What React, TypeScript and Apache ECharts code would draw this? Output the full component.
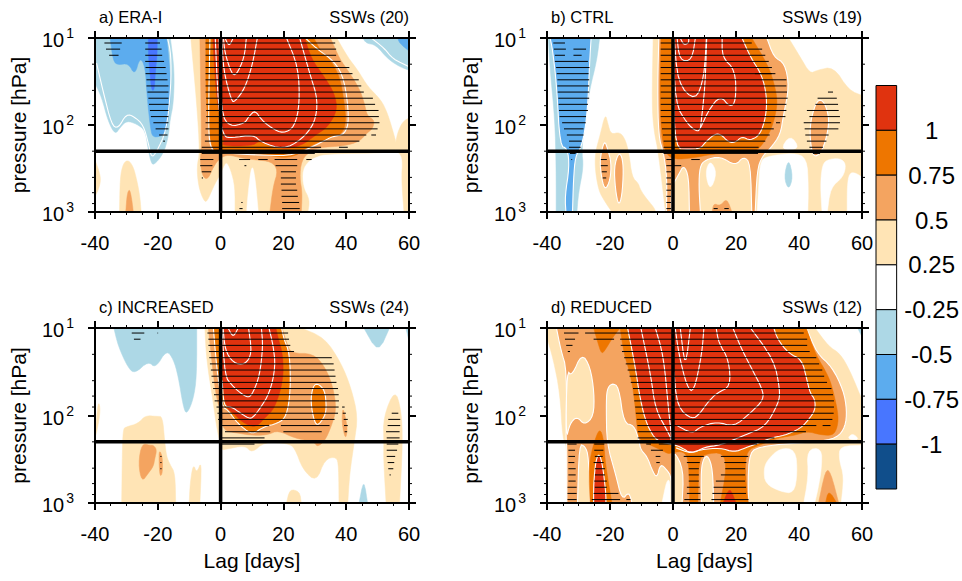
import React, { useEffect, useRef } from "react";
import * as echarts from "echarts";

type Pt = [number, number];
type Fill = { band: number; edge?: boolean; pts: Pt[] };
type Seg = [number, number, number];

// Colour bar, top to bottom
const barBands = [1, 0.75, 0.5, 0.25, 0, -0.25, -0.5, -0.75, -1];
const barColors = ["#e0330f", "#ee7600", "#f4a460", "#ffe4b5", "#ffffff", "#add8e6", "#5cacee", "#4876ff", "#104e8b"];
const barLabels = ["", "-1", "-0.75", "-0.5", "-0.25", "0.25", "0.5", "0.75", "1", ""];

const lagTicks = { min: -40, max: 60, step: 20 };
const minorPressures = [20, 40, 60, 80, 200, 400, 600, 800];
const refPressure = 200;
const refLag = 0;

const titles = ["a) ERA-I", "b) CTRL", "c) INCREASED", "d) REDUCED"];
const sswCounts = ["SSWs (20)", "SSWs (19)", "SSWs (24)", "SSWs (12)"];

// Every contour is a list of [lag in days, log10 of pressure in hPa]
const fillsA: Fill[] = [
  { band: 0.25, pts: [[-9.5, 1], [37, 1], [40.5, 1.22], [43.7, 1.37], [46.9, 1.56], [51.1, 1.71], [53.2, 1.87], [54.8, 2.06], [56.4, 2.27], [54.3, 2.32], [34.2, 2.33], [30.5, 2.36], [27.8, 2.42], [26, 2.52], [26.2, 2.71], [28.4, 2.86], [27.8, 3], [4.6, 3], [4.6, 2.71], [3.3, 2.52], [1.9, 2.42], [0.9, 2.48], [-0.2, 2.57], [-2.3, 2.71], [-4.4, 2.89], [-5.5, 2.86], [-7, 2.71], [-7.6, 2.48], [-6.6, 2.32], [-7.6, 1.75]] },
  { band: 0, pts: [[8.3, 3], [8.7, 2.8], [9.9, 2.44], [11, 2.6], [12, 3]] },
  { band: 0.25, pts: [[56.2, 2.1], [58, 1.96], [60, 1.92], [60, 3], [58.4, 3], [57.6, 2.62], [58, 2.4], [57, 2.32], [55.4, 2.3]] },
  { band: 0.25, pts: [[-40, 2.4], [-38.5, 2.55], [-38.2, 2.65], [-39, 2.75], [-40, 2.82]] },
  { band: 0.25, pts: [[-32.2, 3], [-32, 2.6], [-31, 2.44], [-29.4, 2.4], [-27.8, 2.48], [-26.7, 2.63], [-25.7, 2.82], [-25.3, 3]] },
  { band: 0.5, pts: [[-30.2, 3], [-29.8, 2.8], [-29, 2.73], [-28.3, 2.85], [-27.8, 3]] },
  { band: 0.5, pts: [[-6.6, 1], [35, 1], [37.9, 1.24], [40.5, 1.37], [44.2, 1.58], [45.8, 1.75], [46.7, 1.9], [49, 1.94], [48.5, 2.04], [46.4, 2.1], [44.2, 2.19], [39.5, 2.24], [31, 2.26], [27.8, 2.32], [25.7, 2.42], [25.2, 2.6], [26, 2.78], [25.7, 3], [15.7, 3], [16.7, 2.71], [18.3, 2.52], [16.2, 2.42], [11, 2.4], [6.7, 2.38], [2.4, 2.34], [-0.2, 2.38], [-2.3, 2.48], [-4.1, 2.63], [-5.8, 2.59], [-6.6, 2.4], [-6, 2.27]] },
  { band: 0.75, pts: [[-4.7, 1], [29.7, 1], [32, 1.16], [35, 1.25], [38, 1.45], [39.3, 1.72], [40, 1.95], [38.8, 2.1], [35, 2.15], [30.3, 2.21], [25.5, 2.3], [24.7, 2.34], [20.4, 2.38], [14, 2.34], [11, 2.32], [-0.5, 2.33], [-3, 2.27], [-4.7, 1.75]] },
  { band: 1, pts: [[-2.5, 1], [26.8, 1], [28.9, 1.24], [33.1, 1.45], [36.3, 1.64], [37.2, 1.83], [34.2, 2.02], [30.5, 2.11], [25.7, 2.24], [19.4, 2.28], [13, 2.2], [12, 2.19], [10, 2.24], [0.3, 2.24], [1.2, 2.19], [-0.3, 1.9], [-1.5, 1.6]] },
  { band: -0.25, pts: [[-40, 1], [-16, 1], [-14.7, 1.37], [-15, 1.75], [-16.1, 1.94], [-16.6, 2.13], [-18.2, 2.33], [-21.4, 2.47], [-22.3, 2.41], [-23, 2.29], [-24, 2.06], [-26.7, 1.99], [-29.9, 1.95], [-32, 2.03], [-33.6, 2.11], [-35.8, 1.96], [-37.9, 1.68], [-40, 1.52]] },
  { band: -0.5, pts: [[-35.2, 1], [-17.2, 1], [-16.6, 1.18], [-15.8, 1.56], [-16.6, 1.94], [-17.7, 2.11], [-21.4, 2.15], [-22.3, 2.06], [-23.5, 1.64], [-24, 1.33], [-25.7, 1.22], [-27.3, 1.43], [-29.4, 1.29], [-32.6, 1.31], [-34.2, 1.27]] },
  { band: -0.75, pts: [[-23, 1], [-20.2, 1], [-20.2, 1.2], [-20.8, 1.4], [-21.1, 1.6], [-22, 1.6], [-22.5, 1.4], [-23, 1.2]] },
  { band: -0.25, pts: [[45.3, 1], [60, 1], [60, 1.37], [57, 1.33], [53.2, 1.24], [49.5, 1.08], [46.3, 1.06]] },
  { band: -0.5, pts: [[56.4, 1], [60, 1], [60, 1.15], [57, 1.06]] },
];
const linesA: Pt[][] = [
  [[-39.5, 1.29], [-37.3, 1.63], [-34.7, 2], [-32.6, 2.04], [-30, 1.87], [-27.3, 1.91], [-24.6, 2], [-23, 2.21], [-22, 2.38], [-20.4, 2.31], [-17.2, 2.06], [-15.8, 1.56], [-15.8, 1.18], [-16.9, 1]],
  [[48, 1], [52.2, 1.12], [54.8, 1.24], [60, 1.33]],
  [[1.4, 1], [2.7, 1.1], [4, 1]],
  [[0.9, 1], [1.4, 1.18], [3.5, 1.41], [5, 1.43], [7.6, 1.22], [8.2, 1]],
  [[0.4, 1], [0.9, 1.37], [3.5, 1.73], [4.6, 1.73], [7.7, 1.58], [10.2, 1.3], [11.7, 1]],
  [[-0.5, 1], [0.2, 1.87], [2.9, 2.02], [7.7, 1.98], [9, 1.9], [11, 1.83], [13, 1.94], [16, 2.03], [20, 2.1], [23.6, 2.02], [25.2, 1.75], [24.7, 1.33], [21, 1]],
  [[-1.7, 1], [-0.7, 1.8], [0.8, 2.13], [3.5, 2.15], [10.4, 2.11], [13, 2.2], [20, 2.28], [25.7, 2.17], [30, 1.98], [31, 1.71], [28.4, 1.41], [25.2, 1]],
  [[-3.4, 1], [-3.9, 1.95], [-3.4, 2.27], [-0.7, 2.32], [14, 2.35], [23.6, 2.35], [32, 2.2], [35.8, 2.13], [39.5, 2.11], [41, 1.94], [39.5, 1.48], [36.3, 1.27], [30.5, 1.12], [27, 1]],
];
// [hatch row, first lag, last lag]
const hatchA: Seg[] = [
  [0, -37, -31.5], [0, -24, -19.3], [0, -4.8, 36.5],
  [1, -36.5, -32], [1, -24, -18.8], [1, -4.8, 36.8],
  [2, -35.5, -32.5], [2, -24, -18.6], [2, -4.8, 36.8],
  [3, -24, -18], [3, -4.8, 38.2],
  [4, -23.9, -17.5], [4, -4.8, 41],
  [5, -23.9, -17.2], [5, -4.8, 42],
  [6, -23.6, -16.9], [6, -4.8, 44],
  [7, -23.6, -16.6], [7, -4.8, 44.8],
  [8, -23.3, -16.6], [8, -4.8, 45.6],
  [9, -23, -16.6], [9, -4.6, 48.5],
  [10, -22.8, -16.6], [10, -4.6, 49.2],
  [11, -22.5, -16.6], [11, -4.6, 50.3],
  [12, -22.2, -16.6], [12, -4.6, 50.4],
  [13, -21.4, -16.6], [13, -4.8, 50.6],
  [14, -20.7, -16.6], [14, -4.8, 50],
  [15, -19.6, -16.9], [15, -5, 46.4], [15, 48, 49.5],
  [16, -18.3, -17.7], [16, -5, 44.2],
  [17, -6, 32], [17, 37.7, 40.5],
  [18, -6, 30],
  [19, -6.5, -2.3], [19, 5.9, 9.4], [19, 12, 15], [19, 17.2, 24.4], [19, 27.3, 29],
  [20, -6.5, -2.6], [20, 7.6, 8.2], [20, 17.5, 24.4],
  [21, -6, -3], [21, 19.2, 24],
  [22, -6, -5.6], [22, 19.2, 24],
  [23, 19.2, 24], [24, 19.4, 24.4], [25, 19.4, 24.6],
  [26, 6.6, 7], [26, 19.6, 25],
  [27, 6, 7], [27, 19.6, 25.2],
];

const fillsB: Fill[] = [
  { band: 0.25, pts: [[-6.3, 1], [36.7, 1], [40.4, 1.22], [43.5, 1.41], [45.7, 1.37], [51, 1.33], [55.8, 1.6], [60, 1.66], [60, 3], [-2.4, 3], [-4.6, 2.32], [-6.1, 2.06], [-6.7, 1.75]] },
  { band: 0.25, pts: [[-21.5, 1.87], [-20.7, 1.98], [-19.7, 2.11], [-17, 2.08], [-15.2, 2.16], [-14, 2.32], [-13, 2.6], [-11, 2.67], [-10.5, 2.73], [-9, 2.82], [-6, 2.95], [-5.5, 3], [-19.4, 3], [-22, 2.86], [-23.6, 2.75], [-24.7, 2.52], [-24.7, 2.32], [-23.1, 2.11]] },
  { band: 0, pts: [[27.7, 2.42], [29.8, 2.36], [38.3, 2.32], [42.5, 2.38], [43, 2.71], [42.8, 3], [26.7, 3], [27.2, 2.71]] },
  { band: 0, pts: [[47.3, 2.48], [48.6, 2.4], [53, 2.38], [55, 2.45], [54, 2.6], [50, 2.72], [49, 3], [47.3, 3], [46.8, 2.7]] },
  { band: 0, pts: [[55.3, 3], [55.3, 2.7], [56, 2.55], [58, 2.55], [60, 2.6], [60, 3]] },
  { band: 0, pts: [[34, 2.29], [37.2, 2.11], [40.4, 2.28]] },
  { band: 0, pts: [[11.8, 2.4], [14, 2.55], [11.8, 2.76], [10.2, 2.55]] },
  { band: -0.25, pts: [[36.7, 2.38], [35.2, 2.6], [36.7, 2.75], [38.1, 2.6]] },
  { band: 0.5, edge: true, pts: [[-4.5, 1], [29.8, 1], [32, 1.22], [35.5, 1.29], [36.9, 1.56], [35, 1.9], [34.1, 2.11], [30.9, 2.27], [28.3, 2.36], [26.7, 2.52], [26.1, 3], [25, 3], [24.6, 2.44], [22.4, 2.36], [19.8, 2.47], [15, 2.36], [10.2, 2.4], [8.5, 2.48], [8.2, 2.71], [8.7, 3], [5.2, 3], [5, 2.59], [3.4, 2.46], [1.8, 2.57], [-0.5, 2.71], [-0.6, 3], [-2.1, 3], [-1.9, 2.6], [-3, 2.32], [-4.6, 2.13], [-4.9, 1.56]] },
  { band: 0.5, pts: [[12.4, 3], [12.9, 2.9], [15, 2.93], [17.1, 2.84], [18.7, 3]] },
  { band: 0.5, edge: true, pts: [[47, 1.7], [45.2, 1.75], [43.3, 2.02], [44, 2.32], [45.5, 2.37], [47.8, 2.27], [49.7, 1.98], [48.7, 1.79]] },
  { band: 0.5, edge: true, pts: [[-21.8, 2.17], [-23.3, 2.4], [-22.6, 2.63], [-21.5, 2.75], [-19.9, 2.63], [-19.6, 2.43], [-20.7, 2.28]] },
  { band: 0.5, edge: true, pts: [[-17.3, 2.32], [-18.7, 2.48], [-18.3, 2.74], [-17.3, 2.93], [-16.2, 2.82], [-15.7, 2.52], [-16.2, 2.36]] },
  { band: 0.75, pts: [[-3.8, 1], [25, 1], [29.3, 1.26], [31.4, 1.43], [33.3, 1.71], [32.2, 1.94], [30.4, 2.11], [27.5, 2.27], [24.5, 2.32], [15, 2.32], [4.5, 2.39], [-0.3, 2.39], [-2.5, 2.31], [-3.8, 2.1], [-4.2, 1.56]] },
  { band: 1, edge: true, pts: [[0.2, 1], [21.9, 1], [24.6, 1.22], [28.3, 1.43], [29.8, 1.68], [29.5, 1.9], [27.7, 2.11], [24.5, 2.18], [21.9, 2.13], [19.8, 2.2], [17.7, 2.2], [15, 2.1], [12.9, 2.11], [10, 2.21], [8.7, 2.27], [5, 2.28], [0.7, 2.27], [0.2, 1.56]] },
  { band: -0.25, pts: [[-39.6, 1], [-23.3, 1], [-24.2, 1.26], [-26.5, 1.6], [-27.9, 1.94], [-29, 2.29], [-28.4, 2.48], [-30, 2.78], [-30.5, 3], [-37.1, 3], [-37.1, 2.48], [-37.5, 1.94], [-39, 1.37]] },
  { band: -0.5, edge: true, pts: [[-39, 1], [-26, 1], [-26.5, 1.3], [-27, 1.75], [-27.9, 2.06], [-29.3, 2.27], [-31, 2.36], [-31.6, 2.63], [-31.9, 3], [-34, 3], [-34.3, 2.82], [-32.9, 2.48], [-33.5, 2.27], [-35.9, 2.24], [-36.9, 1.56], [-38.2, 1.14]] },
];
const linesB: Pt[][] = [
  [[2.3, 1], [3.4, 1.08], [5, 1.06], [5, 1]],
  [[1.3, 1], [2.1, 1.26], [6, 1.26], [7.1, 1]],
  [[0.4, 1], [1.5, 1.52], [7.1, 1.73], [9.9, 1.45], [10.6, 1]],
  [[0, 1], [0.7, 1.75], [4.4, 1.98], [7.6, 2.08], [8.7, 2.04], [11.3, 1.83], [15, 1.66], [18.2, 1.8], [20, 1.72], [19.8, 1.37], [15.6, 1.22], [15.6, 1]],
  [[10.7, 1], [10.2, 1.56], [8.7, 2.04]],
];
const hatchB: Seg[] = [
  [0, -38, -34.3], [0, -3.9, 25],
  [1, -37.8, -34], [1, -31.6, -27.6], [1, -3.9, 28.3],
  [2, -37.5, -34.3], [2, -31.6, -29], [2, -3.9, 29.3],
  [3, -37.5, -27], [3, -3.9, 30.4],
  [4, -37.1, -26.5], [4, -3.9, 31.4],
  [5, -36.9, -26.8], [5, -3.9, 31.4], [5, 26, 32.5],
  [6, -36.7, -26.6], [6, -3.9, 36],
  [7, -36.7, -26.6], [7, -3.9, 36],
  [8, -36.6, -26.6], [8, -3.9, 36.2], [8, 49.2, 50.8],
  [9, -36.4, -26.6], [9, -3.9, 36.4], [9, 45.9, 52],
  [10, -36.3, -27], [10, -3.9, 36], [10, 45.2, 52.4],
  [11, -36.2, -27], [11, -3.9, 36], [11, 42.5, 52.6],
  [12, -36, -27.6], [12, -3.9, 35.7], [12, 43.3, 53],
  [13, -35.2, -27.7], [13, -3.7, 31.2], [13, 32.7, 34],
  [14, -34.6, -28.4], [14, -3.5, 32], [14, 41.8, 52.5],
  [13, 41.5, 53],
  [15, -33.7, -28.4], [15, -3.2, 30.7], [15, 42, 49.4],
  [16, -33, -29], [16, -3, 29.3], [16, 42.5, 48.7],
  [17, -33, -29.3], [17, -3, 27.2], [17, 43.3, 47.6],
  [18, -32.7, -30.9], [18, -3, 27], [18, 44.4, 46.7],
  [19, -32.3, -32], [19, -2.1, -0.3], [19, 5.8, 8.5], [19, -22.9, -21],
  [20, -2.1, 2.6], [20, -22.9, -20.7],
  [21, -2.1, -0.6], [21, -22.6, -21],
  [22, -2.1, -0.6], [22, -22.3, -21.2],
  [23, -2.1, -0.6], [24, -2.1, -0.6], [25, -2.1, -0.6], [26, -2.1, -0.6],
  [27, -2.1, -0.6], [27, 12.9, 14.2], [27, 16.3, 17.7],
];

const fillsC: Fill[] = [
  { band: 0.25, pts: [[-5, 1], [25.7, 1], [33.1, 1.11], [38.4, 1.4], [41.6, 1.69], [43.7, 2.01], [42.6, 2.3], [41.1, 2.66], [40.5, 3], [37.7, 3], [37.6, 2.58], [36.9, 2.47], [33.2, 2.5], [30.5, 2.76], [26.2, 2.62], [23.6, 2.37], [21.5, 2.32], [14, 2.3], [10, 2.43], [7.8, 2.34], [1.4, 2.39], [0.3, 2.39], [-1.3, 2.13], [-2.3, 1.86], [-4.5, 1.36]] },
  { band: 0.25, pts: [[21, 3], [22, 2.84], [25.2, 2.87], [25.7, 3]] },
  { band: 0.25, pts: [[52, 2.32], [51.8, 2.02], [55.5, 1.7], [57.5, 1.93], [58, 2.3], [57, 3], [52.7, 3], [51.9, 2.5]] },
  { band: 0.25, pts: [[-40, 2.24], [-39, 1.82], [-38.2, 1.94], [-39.5, 2.2]] },
  { band: 0.25, pts: [[-31, 2.15], [-30, 2.13], [-26.2, 2.09], [-24, 2], [-20.3, 2.01], [-18.5, 2.01], [-17.8, 2.3], [-17.2, 2.47], [-16.1, 2.56], [-14.5, 2.66], [-14.3, 3], [-31.5, 3], [-31.3, 2.39]] },
  { band: 0.25, pts: [[-8.7, 2.55], [-7.6, 2.66], [-6, 2.51], [-6.6, 3], [-10, 3], [-9.7, 2.77]] },
  { band: 0.5, pts: [[-25.1, 2.32], [-22.5, 2.34], [-21.4, 2.34], [-20.3, 2.39], [-21, 2.5], [-21.4, 2.58], [-23, 2.66], [-25.1, 2.76], [-26.2, 2.55]] },
  { band: 0.5, pts: [[-19.6, 2.39], [-18.5, 2.47], [-18.5, 2.66], [-19.3, 2.7], [-19.6, 2.55]] },
  { band: 0.5, pts: [[-3.9, 1], [19.6, 1], [21, 1.17], [22.5, 1.29], [29.4, 1.29], [33.2, 1.44], [35.8, 1.67], [36.9, 1.93], [35.2, 2.13], [33.2, 2.29], [30.8, 2.36], [29.8, 2.3], [23.6, 2.26], [18.3, 2.17], [15.1, 2.22], [10.8, 2.23], [5, 2.2], [0.6, 2.17], [0.3, 1.94], [-1, 1.86], [-2.3, 1.55]] },
  { band: 0.5, pts: [[38.9, 1.9], [39.8, 2.03], [40.4, 2.15], [39.8, 2.28], [38.6, 2.09]] },
  { band: 0.75, edge: true, pts: [[-2.3, 1], [19.4, 1], [20.2, 1.13], [22, 1.29], [22.3, 1.71], [21, 2.01], [18.3, 2.09], [13.5, 2.13], [10.2, 2.22], [6.7, 2.13], [4.6, 2.05], [2.4, 1.94], [0.5, 1.9], [-1.3, 1.44]] },
  { band: 0.75, edge: true, pts: [[30.8, 1.63], [33.2, 1.71], [33.7, 1.9], [33.2, 2.01], [30.7, 2.13], [29.4, 2.01], [28.7, 1.82], [29.4, 1.67]] },
  { band: 1, pts: [[-0.2, 1], [17.6, 1], [18.3, 1.11], [19.9, 1.32], [19.9, 1.61], [17.2, 1.92], [14, 2.03], [12, 2.11], [10, 2.13], [6.7, 2.07], [4.6, 1.99], [1.4, 1.9], [0.5, 1.55]] },
  { band: -0.25, pts: [[-34, 1], [-7.6, 1], [-7.6, 1.55], [-8.7, 1.82], [-10.8, 1.99], [-11.9, 1.9], [-13.5, 1.55], [-15, 1.36], [-17.2, 1.25], [-20.7, 1.46], [-23, 1.38], [-27.3, 1.52], [-29.4, 1.46], [-32.6, 1.21]] },
  { band: -0.25, pts: [[45.6, 1], [53.8, 1], [50.2, 1.29]] },
  { band: -0.25, pts: [[59, 1], [60, 1], [60, 1.15]] },
  { band: -0.25, pts: [[45.6, 2.72], [44.1, 3], [46.8, 3]] },
];
const linesC: Pt[][] = [
  [[2.4, 1], [4, 1.11], [5.6, 1]],
  [[0.8, 1], [1.4, 1.25], [4, 1.4], [7.8, 1.42], [10, 1.29], [8.9, 1]],
  [[0.4, 1], [1.4, 1.55], [3.5, 1.65], [6.2, 1.74], [8.9, 1.8], [10.3, 1.74], [12.4, 1.55], [13.5, 1.21], [13, 1]],
  [[0.5, 1.6], [1, 1.9], [3.5, 1.9], [6.2, 1.97], [8.9, 2.03], [10, 2.03], [12, 1.95], [15.7, 1.74], [17.5, 1.44], [16.7, 1.19], [15.4, 1]],
];
const hatchC: Seg[] = [
  [0, -28.3, -24.3], [0, -20.1, -19.9], [0, -4.2, 21.5],
  [1, -27.6, -25.5], [1, -3.9, 21.8],
  [2, -3.9, 22.2],
  [3, -3.7, 23.4],
  [4, -3.6, 35.4],
  [5, -3.4, 36],
  [6, -3.1, 36.3],
  [7, -2.9, 36.6],
  [8, -2.7, 36.9],
  [9, -2.4, 37.4],
  [10, -2.1, 37.6],
  [11, -1.9, 37.7],
  [12, -1.3, 37.6], [12, 38.7, 39.5],
  [13, -1, 37.4], [13, 38.9, 39.9], [13, 54.5, 56.6],
  [14, -0.8, 36.3], [14, 39.2, 40.5], [14, 53.4, 57.2],
  [15, -0.2, 15.5], [15, 19.2, 34.7], [15, 39.3, 40.5], [15, 53.2, 57.2],
  [16, 1.4, 15.8], [16, 20, 32.2], [16, 39.5, 40.3], [16, 52.7, 57],
  [17, 0, 14], [17, 52.9, 57],
  [18, 0, 10.8], [18, 52.9, 56.6],
  [19, 52.9, 56.2],
  [20, -19.2, -18.8], [20, 52.9, 55.6],
  [21, -19.2, -18.8], [21, 53.2, 55.3],
  [22, -19.2, -18.8], [22, 53.4, 55],
  [23, 53.8, 54.2],
];

const fillsD: Fill[] = [
  { band: 0.25, pts: [[-40, 1], [45.1, 1], [49.4, 1.21], [53, 1.29], [56.1, 1.48], [60, 1.82], [60, 3], [-33.5, 3], [-33.7, 2.32], [-35, 2.28], [-35.9, 1.74], [-38, 1.36], [-40, 1.11]] },
  { band: 0, pts: [[34, 2.37], [38.9, 2.39], [39.5, 2.66], [38.4, 2.89], [34.1, 2.87], [29.3, 2.78], [28.8, 2.62], [29.9, 2.51]] },
  { band: 0, pts: [[42.5, 2.39], [47.2, 2.37], [47.2, 2.6], [46, 2.85], [45, 3], [41.5, 3], [43, 2.7]] },
  { band: 0, pts: [[53, 2.35], [60, 2.34], [60, 3], [53.4, 3], [54.3, 2.7], [52.7, 2.5]] },
  { band: 0, pts: [[55.2, 2.27], [57, 2.2], [59.3, 2.28]] },
  { band: -0.25, pts: [[58.6, 1], [60, 1], [60, 1.1]] },
  { band: 0.5, edge: true, pts: [[-37, 1], [42.4, 1], [45.7, 1.29], [50.4, 1.44], [54.1, 1.71], [55.2, 1.94], [54.7, 2.13], [52, 2.26], [45.2, 2.3], [26.7, 2.35], [23.9, 2.47], [23.9, 3], [-33.7, 3], [-33.7, 2.32], [-34, 2.28], [-33.7, 1.48], [-35.6, 1.25]] },
  { band: 0.25, edge: true, pts: [[-34, 2.28], [-32.7, 2.09], [-30.5, 2.01], [-28.1, 2.11], [-25.2, 2.01], [-25, 1.74], [-26.3, 1.44], [-29, 1.29], [-32.1, 1.55], [-33.7, 1.48]] },
  { band: 0.25, edge: true, pts: [[-19.4, 1.63], [-17.2, 1.67], [-15.6, 2.09], [-12.4, 2.11], [-10.8, 2.28], [-10.3, 2.39], [-8.2, 2.47], [-6.7, 2.62], [-5.1, 2.72], [-4, 2.55], [-2, 2.62], [-0.5, 2.7], [-0.5, 3], [-13, 3], [-14, 2.87], [-16.2, 2.97], [-18.3, 2.66], [-21, 2.32], [-21.2, 1.9], [-21, 1.7]] },
  { band: 0, pts: [[-3.5, 3], [-0.9, 3], [-0.9, 2.74], [-2, 2.74]] },
  { band: 0.25, edge: true, pts: [[11.2, 2.46], [12.6, 2.62], [12.9, 3], [9, 3], [8.9, 2.62], [9.8, 2.48]] },
  { band: 0.25, edge: true, pts: [[0.2, 2.39], [3.4, 2.62], [2.9, 3], [-0.5, 3], [-0.3, 2.62]] },
  { band: 0.25, edge: true, pts: [[-29.8, 2.33], [-27.9, 2.35], [-26.8, 2.47], [-26.3, 3], [-30.3, 3]] },
  { band: 0.75, pts: [[-23.3, 2.14], [-22, 2.27], [-21.5, 2.55], [-19.4, 3], [-26.3, 3], [-26.8, 2.58], [-25.2, 2.32]] },
  { band: 1, edge: true, pts: [[-23.4, 2.43], [-22.3, 2.58], [-21.3, 2.89], [-21.3, 3], [-25.2, 3], [-25.2, 2.78], [-24.5, 2.51]] },
  { band: 0.75, pts: [[-25.2, 1], [-16.8, 1], [-19, 1.1], [-21.5, 1.25], [-22.7, 1.3], [-24, 1.15]] },
  { band: 0.75, pts: [[-16.8, 1], [42.3, 1], [45.1, 1.29], [49.4, 1.55], [51, 1.74], [52.6, 2.01], [52, 2.16], [50.5, 2.23], [46.8, 2.22], [42.5, 2.18], [39.4, 2.22], [33, 2.26], [26.7, 2.35], [24, 2.39], [23, 2.51], [23, 2.62], [23.5, 2.9], [24, 3], [15, 3], [17, 2.62], [16, 2.42], [10.1, 2.44], [8.2, 2.51], [7.9, 3], [5.3, 3], [5, 2.51], [3.4, 2.41], [0, 2.42], [-1.4, 2.44], [-3.5, 2.4], [-7, 2.34], [-11, 2.28], [-11.7, 2.01], [-12.5, 1.74], [-13.6, 1.52], [-15.6, 1.29]] },
  { band: 1, edge: true, pts: [[-14.4, 1], [32, 1], [33.2, 1.13], [36.7, 1.29], [40.9, 1.36], [42.5, 1.59], [43.5, 1.74], [45.1, 1.82], [45.1, 1.94], [43, 2.05], [40.4, 2.15], [35.2, 2.23], [31.5, 2.25], [26.7, 2.32], [23, 2.37], [19.4, 2.42], [15, 2.37], [8.7, 2.39], [5.5, 2.43], [2.9, 2.37], [0.2, 2.33], [-5.1, 2.3], [-8.3, 2.11], [-10.4, 1.82], [-12, 1.44]] },
  { band: 1, pts: [[15.9, 3], [18, 2.81], [20, 3]] },
  { band: 0.5, pts: [[48.4, 2.62], [50, 2.64], [52.6, 3], [46.2, 3]] },
  { band: 0.75, pts: [[49.4, 2.85], [52, 3], [48.4, 3]] },
];
const linesD: Pt[][] = [
  [[2.3, 1], [3.9, 1.48], [5.5, 1]],
  [[0.7, 1], [1.8, 1.29], [4.4, 1.67], [6.6, 1.74], [9.2, 1.29], [9.8, 1]],
  [[0.3, 1.5], [1.3, 1.9], [6.1, 2.05], [8.7, 1.97], [11, 1.85], [14, 1.74], [18.3, 1.67], [17.7, 1.36], [14.5, 1.17], [13.7, 1]],
  [[1, 2.11], [6.1, 2.21], [8.6, 2.13], [14, 2.07], [19.3, 2.13], [24.6, 1.97], [28.8, 1.82], [28.3, 1.69], [24.6, 1.44], [21.4, 1.21], [19, 1]],
  [[1, 2.37], [5.9, 2.44], [10, 2.36], [15, 2.34], [23, 2.22], [29.3, 2.13], [33.5, 1.86], [34, 1.71], [32, 1.36], [24.6, 1]],
  [[-10.2, 1], [-7, 1.55], [-5.6, 1.93], [-1.4, 2.2], [-0.3, 2.3]],
  [[-5.6, 1], [-3, 1.32], [-1.4, 1.94], [-0.3, 2.3]],
];
const hatchD: Seg[] = [
  [0, -34.6, -30], [0, -27.9, 41.5],
  [1, -34.3, -31.1], [1, -25.2, -18.7], [1, -16.8, 42.6],
  [2, -33.9, -31.9], [2, -16.6, 42.6],
  [3, -33.4, -32.7], [3, -16.2, 43.4],
  [4, -15.5, 45.5], [5, -15, 46.4], [6, -14.4, 47.4], [7, -13.8, 48], [8, -13.4, 48.9],
  [9, -12.7, 50.3], [10, -12.5, 50.8], [11, -12.3, 51.1], [12, -12, 51.1], [13, -11.8, 51], [14, -11.5, 50.6],
  [15, -11.3, 45.5], [15, 47.5, 50],
  [16, -11.2, 42.2],
  [17, -11.2, 32.2],
  [18, -33.5, -30.6], [18, -25, -21.8], [18, -8.5, -7], [18, -4.5, 26.7],
  [19, -33.2, -31.1], [19, -25, -22.1], [19, -7, -3.2],
  [20, -33.2, -31.1], [20, -24.8, -22.3], [20, -5.5, -4], [20, 3.4, 9.8], [20, 15.2, 23.9],
  [21, -33.2, -31.3], [21, -25.2, -22], [21, -5.3, -4.2], [21, 4.4, 8.5], [21, 16.3, 23.3],
  [22, -33.2, -30.9], [22, -24.8, -21.6], [22, 5, 8.2], [22, 16.6, 22.9],
  [23, -33.2, -30.9], [23, -24.8, -21.6], [23, 5, 8.2], [23, 15.2, 22.9],
  [24, -33.2, -30.9], [24, -25, -21], [24, 5, 8.2], [24, 13.6, 22.9],
  [25, -33.5, -30.6], [25, -24.8, -21], [25, 4.4, 8.5], [25, 12.9, 23.2],
  [26, -33.5, -30.6], [26, -25.2, -17.3], [26, 4.4, 8.7], [26, 12.5, 23.2],
  [27, -33.5, -30.6], [27, -25.8, -16.8], [27, -14.8, -13.5], [27, 3.6, 8.7], [27, 12.2, 24],
];

const panelFills = [fillsA, fillsB, fillsC, fillsD];
const panelLines = [linesA, linesB, linesC, linesD];
const panelHatch = [hatchA, hatchB, hatchC, hatchD];

const FONT = "Liberation Sans";
const grids = [
  { left: 95, top: 38, width: 314, height: 174 },
  { left: 547, top: 38, width: 315, height: 174 },
  { left: 95, top: 328, width: 314, height: 175 },
  { left: 547, top: 328, width: 315, height: 175 },
];
const rowPressure = (row: number) => Math.pow(10, 1.0575 + 0.0705 * row);
const bandColor = (band: number) => barColors[barBands.indexOf(band)];

// Rounds contour corners for drawing; points on the frame stay where they are.
const onFrame = (q: Pt) =>
  Math.abs(q[1] - 1) < 1e-6 || Math.abs(q[1] - 3) < 1e-6 || Math.abs(q[0] + 40) < 1e-6 || Math.abs(q[0] - 60) < 1e-6;
function rounded(pts: Pt[], closed: boolean): Pt[] {
  let cur = pts;
  for (let it = 0; it < 2; it++) {
    const out: Pt[] = [];
    const n = cur.length;
    cur.forEach((v, i) => {
      const hasP = closed || i > 0;
      const hasN = closed || i < n - 1;
      if (onFrame(v) || !hasP || !hasN) {
        out.push(v);
        return;
      }
      const p = cur[(i - 1 + n) % n];
      const q = cur[(i + 1) % n];
      out.push([v[0] + 0.25 * (p[0] - v[0]), v[1] + 0.25 * (p[1] - v[1])]);
      out.push([v[0] + 0.25 * (q[0] - v[0]), v[1] + 0.25 * (q[1] - v[1])]);
    });
    cur = out;
  }
  return cur;
}

function buildOption() {
  const xAxis: any[] = [];
  const yAxis: any[] = [];
  const series: any[] = [];
  const title: any[] = [];

  grids.forEach((g, k) => {
    const axisLine = { show: true, onZero: false, lineStyle: { color: "#000", width: 2 } };
    const axisTick = { show: true, length: 7, lineStyle: { color: "#000", width: 2 } };
    const bottom = k >= 2;
    [0, 1].forEach((side) => {
      xAxis.push({
        type: "value", gridIndex: k, position: side === 0 ? "bottom" : "top",
        min: lagTicks.min, max: lagTicks.max, interval: lagTicks.step, z: 10,
        axisLine, axisTick,
        minorTick: { show: true, splitNumber: 4, length: 3, lineStyle: { color: "#000", width: 1 } },
        splitLine: { show: false }, minorSplitLine: { show: false },
        axisLabel: { show: side === 0, color: "#000", fontFamily: FONT, fontSize: 20, margin: 21, hideOverlap: false, showMinLabel: true, showMaxLabel: true },
        ...(side === 0 && bottom
          ? { name: "Lag [days]", nameLocation: "middle", nameGap: 47, nameTextStyle: { color: "#000", fontFamily: FONT, fontSize: 21 } }
          : {}),
      });
      yAxis.push({
        type: "log", logBase: 10, gridIndex: k, position: side === 0 ? "left" : "right",
        min: 10, max: 1000, inverse: true, z: 10,
        axisLine, axisTick, splitLine: { show: false }, minorTick: { show: false },
        axisLabel: {
          show: side === 0, margin: 21, hideOverlap: false, showMinLabel: true, showMaxLabel: true,
          formatter: (v: number) => `{b|10}{s|${Math.round(Math.log10(v))}}`,
          rich: {
            b: { color: "#000", fontFamily: FONT, fontSize: 20, padding: [4, 0, 0, 0] },
            s: { color: "#000", fontFamily: FONT, fontSize: 14, padding: [0, 0, 10, 2] },
          },
        },
        ...(side === 0
          ? { name: "pressure [hPa]", nameLocation: "middle", nameGap: 66, nameTextStyle: { color: "#000", fontFamily: FONT, fontSize: 21 } }
          : {}),
      });
    });
    const xi = k * 2;
    const yi = k * 2;
    const fills = panelFills[k];
    const lines = panelLines[k];
    const hatch = panelHatch[k];
    const base = { type: "custom", coordinateSystem: "cartesian2d", xAxisIndex: xi, yAxisIndex: yi, silent: true };
    series.push({
      ...base, clip: true, z: 2, data: fills.map((_, i) => i),
      renderItem: (p: any, api: any) => {
        const f = fills[p.dataIndex];
        return {
          type: "polygon",
          shape: { points: rounded(f.pts, true).map((q) => api.coord([q[0], Math.pow(10, q[1])])) },
          style: { fill: bandColor(f.band), stroke: f.edge ? "#ffffff" : bandColor(f.band), lineWidth: f.edge ? 1.1 : 0.5 },
        };
      },
    });
    series.push({
      ...base, clip: true, z: 3, data: lines.map((_, i) => i),
      renderItem: (p: any, api: any) => ({
        type: "polyline",
        shape: { points: rounded(lines[p.dataIndex], false).map((q) => api.coord([q[0], Math.pow(10, q[1])])) },
        style: { fill: "none", stroke: "#ffffff", lineWidth: 1.1 },
      }),
    });
    series.push({
      ...base, clip: true, z: 4, data: hatch.map((_, i) => i),
      renderItem: (p: any, api: any) => {
        const h = hatch[p.dataIndex];
        const a = api.coord([h[1], rowPressure(h[0])]);
        const b = api.coord([h[2], rowPressure(h[0])]);
        return { type: "line", shape: { x1: a[0], y1: a[1], x2: b[0], y2: b[1] }, style: { stroke: "#000", lineWidth: 1 } };
      },
    });
    // thick reference lines
    series.push({
      ...base, z: 5, data: [0],
      renderItem: (_p: any, api: any) => {
        const t = api.coord([refLag, 10]);
        const d = api.coord([refLag, 1000]);
        const l = api.coord([lagTicks.min, refPressure]);
        const r = api.coord([lagTicks.max, refPressure]);
        return {
          type: "group",
          children: [
            { type: "line", shape: { x1: t[0], y1: t[1], x2: d[0], y2: d[1] }, style: { stroke: "#000", lineWidth: 3.5 } },
            { type: "line", shape: { x1: l[0], y1: l[1], x2: r[0], y2: r[1] }, style: { stroke: "#000", lineWidth: 3.5 } },
          ],
        };
      },
    });
    // log minor ticks on both sides
    series.push({
      ...base, z: 5, data: minorPressures.map((_, i) => i),
      renderItem: (p: any, api: any) => {
        const a = api.coord([lagTicks.min, minorPressures[p.dataIndex]]);
        const b = api.coord([lagTicks.max, minorPressures[p.dataIndex]]);
        return {
          type: "group",
          children: [
            { type: "line", shape: { x1: a[0] - 3, y1: a[1], x2: a[0], y2: a[1] }, style: { stroke: "#000", lineWidth: 1 } },
            { type: "line", shape: { x1: b[0], y1: b[1], x2: b[0] + 3, y2: b[1] }, style: { stroke: "#000", lineWidth: 1 } },
          ],
        };
      },
    });
    title.push({ text: titles[k], left: g.left - 1, top: g.top - 35, textStyle: { color: "#000", fontFamily: FONT, fontSize: 16.5, fontWeight: "normal" } });
    title.push({ text: sswCounts[k], right: 962 - (g.left + g.width), top: g.top - 35, padding: [5, 0, 5, 0], textStyle: { color: "#000", fontFamily: FONT, fontSize: 16.5, fontWeight: "normal" } });
  });

  // colour bar
  const bk = grids.length;
  xAxis.push({ type: "value", gridIndex: bk, min: 0, max: 1, show: false });
  yAxis.push({
    type: "value", gridIndex: bk, position: "right", min: 0, max: barColors.length, interval: 1,
    axisLine: { show: false, onZero: false }, axisTick: { show: false }, splitLine: { show: false },
    axisLabel: {
      color: "#000", fontFamily: FONT, fontSize: 24, align: "center", margin: 35, hideOverlap: false,
      formatter: (v: number) => barLabels[v] ?? "",
    },
  });
  series.push({
    type: "custom", coordinateSystem: "cartesian2d", xAxisIndex: bk * 2, yAxisIndex: bk * 2, silent: true, z: 2,
    data: barColors.map((_, i) => i),
    renderItem: (p: any, api: any) => {
      const i = p.dataIndex;
      const a = api.coord([0, barColors.length - i]);
      const b = api.coord([1, barColors.length - i - 1]);
      return {
        type: "rect",
        shape: { x: a[0], y: a[1], width: b[0] - a[0], height: b[1] - a[1] },
        style: { fill: barColors[i], stroke: "#000", lineWidth: 1 },
      };
    },
  });

  return {
    animation: false,
    backgroundColor: "#fff",
    title,
    grid: [...grids, { left: 876, top: 85.5, width: 21.5, height: 403.5 }],
    xAxis,
    yAxis,
    series,
  };
}

export default function App() {
  const ref = useRef<HTMLDivElement>(null);
  useEffect(() => {
    const chart = echarts.init(ref.current!, undefined, { renderer: "svg" });
    chart.setOption(buildOption() as any);
    return () => chart.dispose();
  }, []);
  return <div ref={ref} style={{ position: "fixed", left: 0, top: 0, width: 962, height: 581 }} />;
}
